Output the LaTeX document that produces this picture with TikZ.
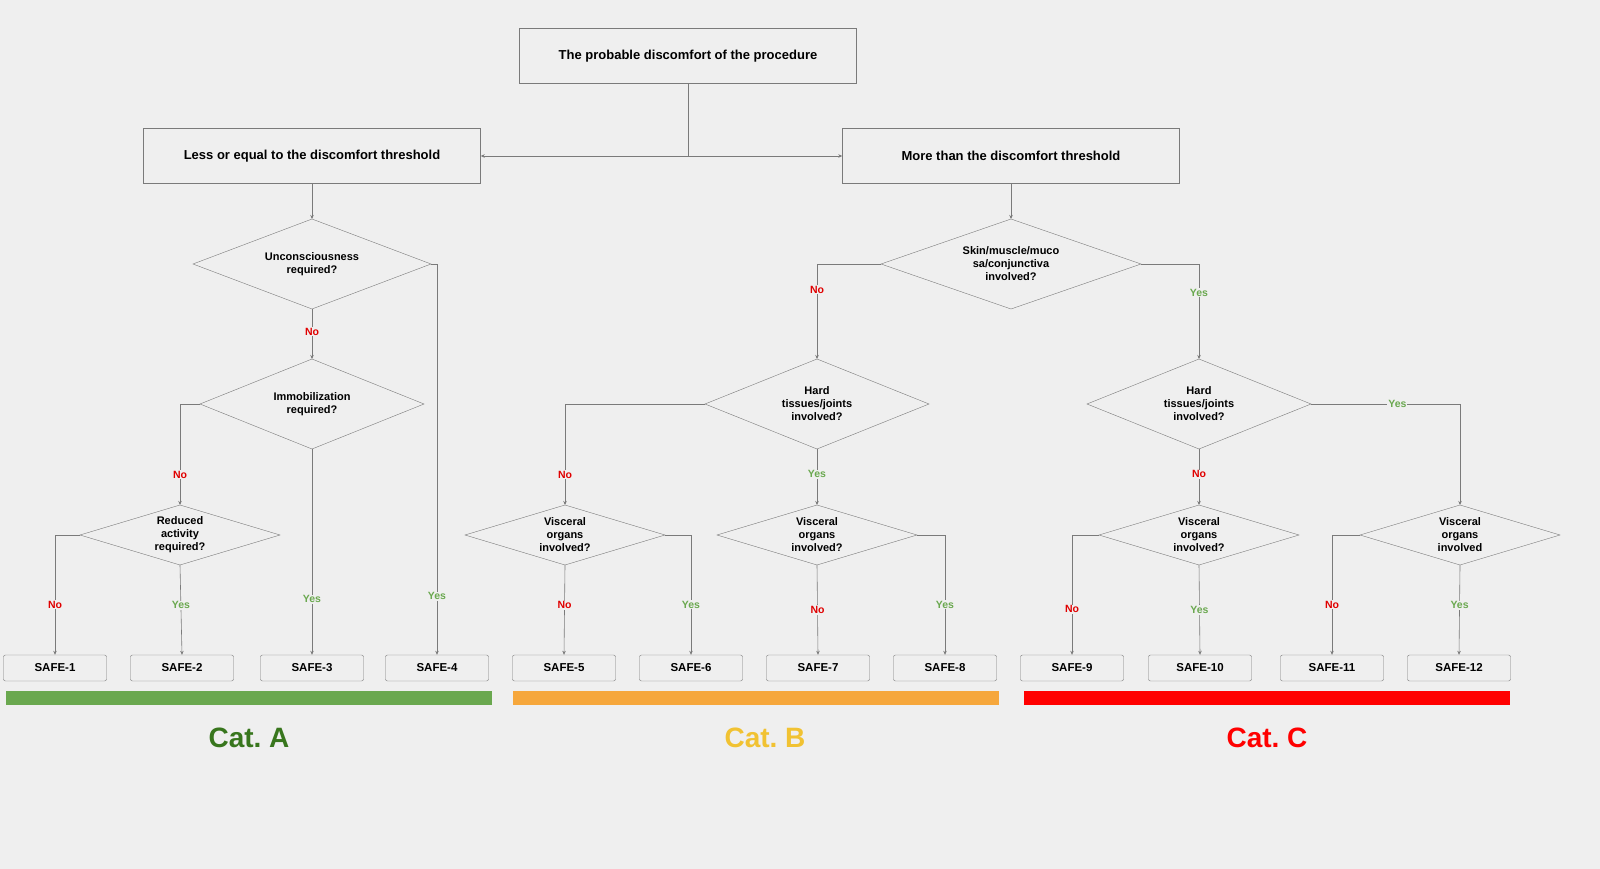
\documentclass[tikz,border=0pt]{standalone}
\usepackage{fontspec}
\setmainfont{Liberation Sans}
\usetikzlibrary{shapes.geometric,arrows.meta}
\frenchspacing
\definecolor{bg}{HTML}{EFEFEF}
\definecolor{lncol}{HTML}{7A7A7A}
\definecolor{nored}{HTML}{E00000}
\definecolor{yesgreen}{HTML}{6AA84F}
\definecolor{catA}{HTML}{38761D}
\definecolor{catB}{HTML}{F1C232}
\definecolor{barB}{HTML}{F6A73C}
\tikzset{
  box/.style={draw=lncol, fill=bg, minimum width=337pt, minimum height=55pt, font=\fontsize{13}{15}\selectfont\bfseries},
  cond/.style={diamond, draw=lncol, fill=bg, inner sep=0pt, outer sep=0pt},
  condtext/.style={align=center, inner sep=0pt, font=\fontsize{11}{13}\selectfont\bfseries},
  safebox/.style={draw=lncol, fill=bg, rounded corners=2pt, minimum width=103pt, minimum height=26pt, font=\fontsize{11.5}{13}\selectfont\bfseries},
  link/.style={draw=lncol, line width=0.6pt, -{Stealth[length=4pt,width=3.5pt]}},
  no/.style={fill=bg, inner sep=1pt, text=nored, font=\fontsize{10.5}{12}\selectfont\bfseries},
  yes/.style={fill=bg, inner sep=1pt, text=yesgreen, font=\fontsize{10.5}{12}\selectfont\bfseries},
  cat/.style={font=\fontsize{28}{32}\selectfont\bfseries}
}
\begin{document}
\begin{tikzpicture}[x=1pt, y=-1pt]
  \useasboundingbox (0,0) rectangle (1600,869);
  \fill[bg] (0,0) rectangle (1600,869);

  % top level
  \node[box] (top) at (688,56) {The probable discomfort of the procedure};
  \node[box] (low) at (312,156) {Less or equal to the discomfort threshold};
  \node[box] (high) at (1011,156) {More than the discomfort threshold};
  \coordinate (split) at (688,156);
  \draw[draw=lncol, line width=0.6pt] (top.south) -- (split);
  \draw[link] (split) -- (low.east);
  \draw[link] (split) -- (high.west);

  % conditions
  \node[cond, minimum width=238pt, minimum height=90pt] (uncon) at (312,264) {};
  \node[condtext] at (uncon) {Unconsciousness\\required?};
  \node[cond, minimum width=224pt, minimum height=90pt] (immob) at (312,404) {};
  \node[condtext] at (immob) {Immobilization\\required?};
  \node[cond, minimum width=200pt, minimum height=60pt] (redact) at (180,535) {};
  \node[condtext] at (redact) {Reduced\\activity\\required?};
  \node[cond, minimum width=260pt, minimum height=90pt] (skin) at (1011,264) {};
  \node[condtext] at (skin) {Skin/muscle/muco\\sa/conjunctiva\\involved?};
  \node[cond, minimum width=224pt, minimum height=90pt] (hardl) at (817,404) {};
  \node[condtext] at (hardl) {Hard\\tissues/joints\\involved?};
  \node[cond, minimum width=224pt, minimum height=90pt] (hardr) at (1199,404) {};
  \node[condtext] at (hardr) {Hard\\tissues/joints\\involved?};
  \foreach \n/\x/\q in {visa/565/?,visb/817/?,visc/1199/?,visd/1460/}{
    \node[cond, minimum width=200pt, minimum height=60pt] (\n) at (\x,535) {};
    \node[condtext] at (\n) {Visceral\\organs\\involved\q};
  }

  % outcomes
  \foreach \i/\x in {1/55,2/182,3/312,4/437,5/564,6/691,7/818,8/945,9/1072,10/1200,11/1332,12/1459}
    \node[safebox] (safe\i) at (\x,668) {SAFE-\i};

  % left branch
  \draw[link] (low.south) -- (uncon.north);
  \draw[link] (uncon.south) -- node[no, pos=0.45] {No} (immob.north);
  \draw[link] (uncon.east) -- (437,264) -- node[yes, pos=0.85] {Yes} (safe4.north);
  \draw[link] (immob.west) -- (180,404) -- node[no, pos=0.7] {No} (redact.north);
  \draw[link] (immob.south) -- node[yes, pos=0.73] {Yes} (safe3.north);
  \draw[link] (redact.west) -- (55,535) -- node[no, pos=0.58] {No} (safe1.north);
  \draw[link] (redact.south) -- node[yes, pos=0.45] {Yes} (safe2.north);

  % right branch
  \draw[link] (high.south) -- (skin.north);
  \draw[link] (skin.west) -- (817,264) -- node[no, pos=0.27] {No} (hardl.north);
  \draw[link] (skin.east) -- (1199,264) -- node[yes, pos=0.3] {Yes} (hardr.north);
  \draw[link] (hardl.west) -- (565,404) -- node[no, pos=0.7] {No} (visa.north);
  \draw[link] (hardl.south) -- node[yes, pos=0.45] {Yes} (visb.north);
  \draw[link] (hardr.south) -- node[no, pos=0.45] {No} (visc.north);
  \draw[link] (hardr.east) -- node[yes, pos=0.58] {Yes} (1460,404) -- (visd.north);
  \draw[link] (visa.south) -- node[no, pos=0.45] {No} (safe5.north);
  \draw[link] (visa.east) -- (691,535) -- node[yes, pos=0.58] {Yes} (safe6.north);
  \draw[link] (visb.south) -- node[no, pos=0.5] {No} (safe7.north);
  \draw[link] (visb.east) -- (945,535) -- node[yes, pos=0.58] {Yes} (safe8.north);
  \draw[link] (visc.west) -- (1072,535) -- node[no, pos=0.62] {No} (safe9.north);
  \draw[link] (visc.south) -- node[yes, pos=0.5] {Yes} (safe10.north);
  \draw[link] (visd.west) -- (1332,535) -- node[no, pos=0.58] {No} (safe11.north);
  \draw[link] (visd.south) -- node[yes, pos=0.45] {Yes} (safe12.north);

  % categories
  \fill[yesgreen] (6,691) rectangle (492,705);
  \fill[barB] (513,691) rectangle (999,705);
  \fill[red] (1024,691) rectangle (1510,705);
  \node[cat, text=catA] (cata) at (249,738) {Cat. A};
  \node[cat, text=catB] (catb) at (765,738) {Cat. B};
  \node[cat, text=red] (catc) at (1267,738) {Cat. C};
\end{tikzpicture}
\end{document}
